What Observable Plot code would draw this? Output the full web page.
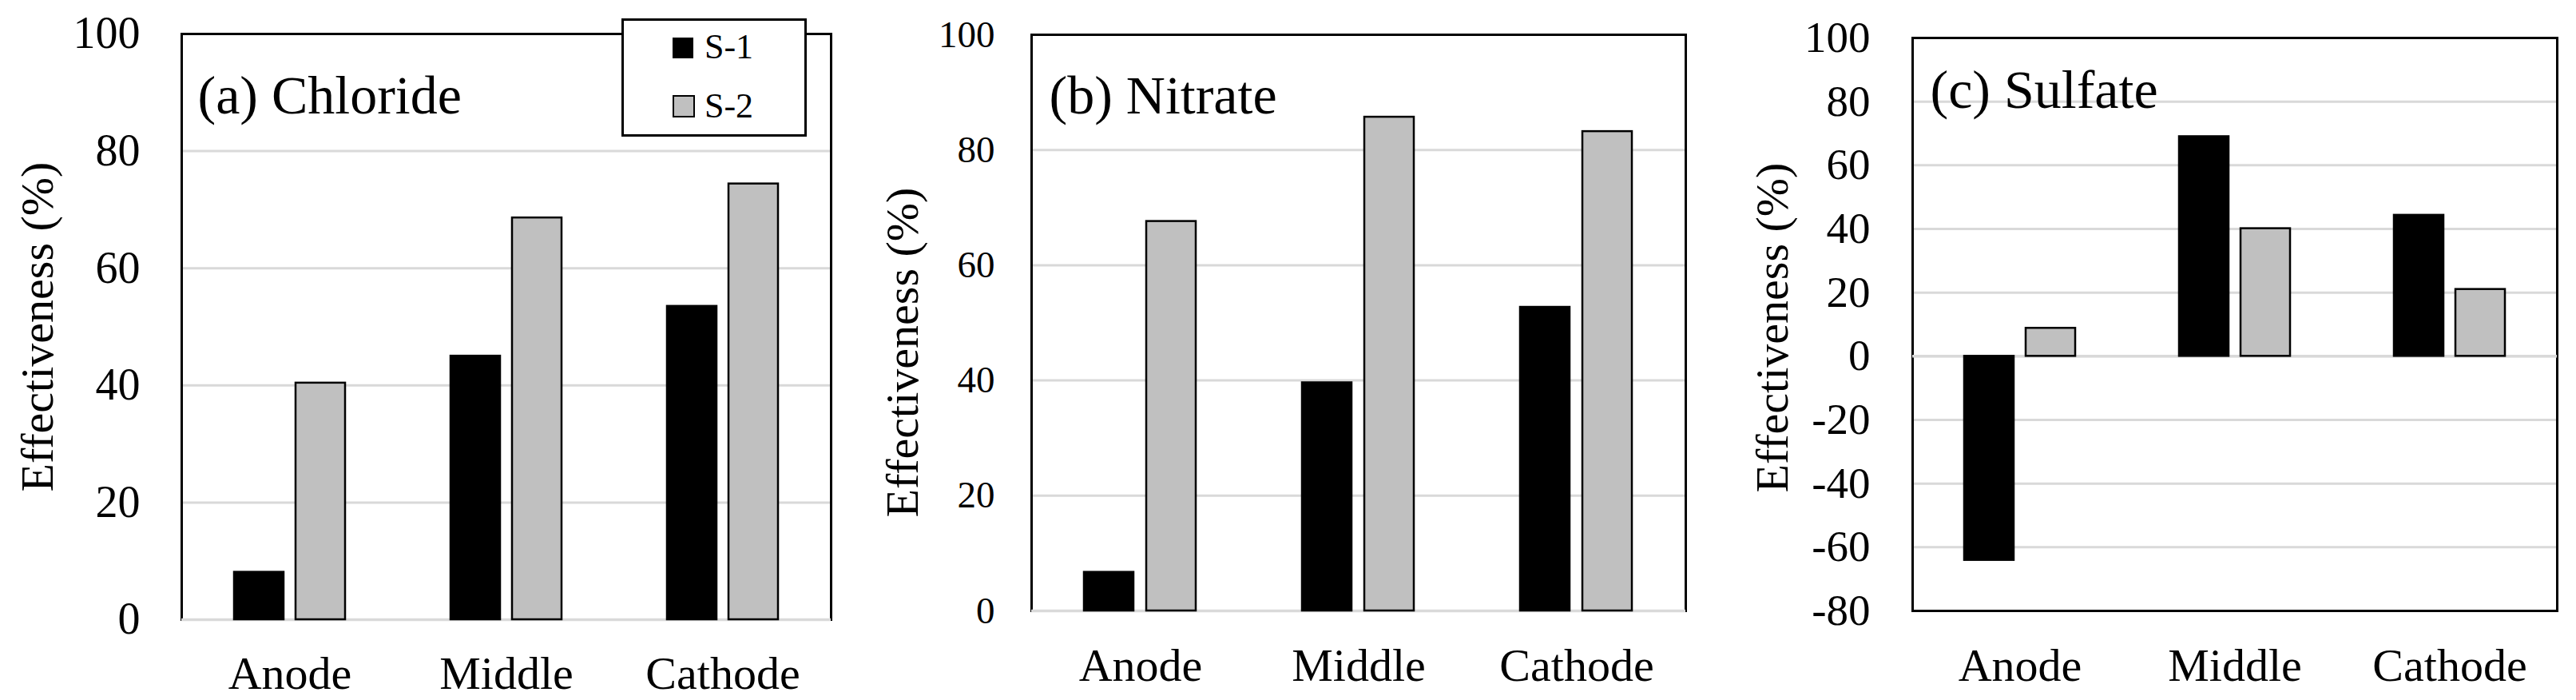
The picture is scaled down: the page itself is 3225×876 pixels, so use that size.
<!DOCTYPE html>
<html>
<head>
<meta charset="utf-8">
<script src="https://cdn.jsdelivr.net/npm/d3@7"></script>
<script src="https://cdn.jsdelivr.net/npm/@observablehq/plot@0.6"></script>
<style>
  html, body { margin: 0; padding: 0; background: #fff; }
  #wrap { position: relative; width: 3225px; height: 876px; overflow: hidden; background: #fff;
          font-family: "Liberation Serif", "Times New Roman", serif; }
  .panel { position: absolute; top: 0; }
  .legend { position: absolute; left: 778px; top: 23px; width: 232px; height: 148px; box-sizing: border-box;
            border: 3px solid #000; background: #fff; }
  .legend .sw { position: absolute; box-sizing: border-box; }
  .legend .lt { position: absolute; font-size: 44px; line-height: 44px; color: #000; white-space: nowrap;
                font-family: "Liberation Serif", "Times New Roman", serif; }
</style>
</head>
<body>
<div id="wrap"></div>
<script>
// ---- data ----
const categories = ["Anode", "Middle", "Cathode"];
const series = ["S-1", "S-2"];
const seriesColors = ["#000000", "#c0c0c0"];

const chlorideS1 = [8.1, 45.0, 53.5];
const chlorideS2 = [40.4, 68.6, 74.4];
const nitrateS1 = [6.7, 39.6, 52.7];
const nitrateS2 = [67.6, 85.7, 83.2];
const sulfateS1 = [-64.1, 69.0, 44.3];
const sulfateS2 = [8.8, 40.1, 21.0];

const panelTitles = ["(a) Chloride", "(b) Nitrate", "(c) Sulfate"];
const yLabel = "Effectiveness (%)";
const yTicksPositive = [0, 20, 40, 60, 80, 100];
const yTicksSulfate = [-80, -60, -40, -20, 0, 20, 40, 60, 80, 100];

// ---- build tables ----
function rows(s1, s2) {
  const out = [];
  categories.forEach((c, i) => {
    out.push({category: c, series: series[0], value: s1[i]});
    out.push({category: c, series: series[1], value: s2[i]});
  });
  return out;
}

const panels = [
  {title: panelTitles[0], data: rows(chlorideS1, chlorideS2), ticks: yTicksPositive,
   left: 0, m: {top: 42, right: 35, bottom: 101, left: 227}, tickFont: 56, tickPad: 52,
   labDx: -180, labDy: 0, titDx: 20, titDy: 51, xPad: 45.5},
  {title: panelTitles[1], data: rows(nitrateS1, nitrateS2), ticks: yTicksPositive,
   left: 1075, m: {top: 43, right: 39, bottom: 112, left: 215}, tickFont: 47, tickPad: 46,
   labDx: -161, labDy: 37, titDx: 22, titDy: 50, xPad: 46},
  {title: panelTitles[2], data: rows(sulfateS1, sulfateS2), ticks: yTicksSulfate,
   left: 2150, m: {top: 47, right: 23, bottom: 112, left: 243}, tickFont: 55, tickPad: 53,
   labDx: -175, labDy: 4, titDx: 22, titDy: 39, xPad: 46}
];

const wrap = document.getElementById("wrap");
const font = "Liberation Serif";

panels.forEach(p => {
  const chart = Plot.plot({
    width: 1075,
    height: 876,
    marginTop: p.m.top,
    marginRight: p.m.right,
    marginBottom: p.m.bottom,
    marginLeft: p.m.left,
    style: {fontFamily: font, background: "#fff", overflow: "visible"},
    fx: {domain: categories, padding: 0},
    x: {domain: series, paddingInner: 0.2, paddingOuter: 0.84, axis: null},
    y: {domain: d3.extent(p.ticks)},
    color: {domain: series, range: seriesColors},
    marks: [
      Plot.ruleY(p.ticks, {stroke: "#d9d9d9", strokeWidth: 3}),
      Plot.frame({stroke: "#000", strokeWidth: 3, facet: "super"}),
      Plot.ruleY([0], {stroke: "#d9d9d9", strokeWidth: 3.5}),
      Plot.barY(p.data, {fx: "category", x: "series", y: "value", fill: "series",
                         stroke: "#000", strokeWidth: 2.5}),
      Plot.axisY(p.ticks, {tickSize: 0, tickPadding: p.tickPad, fontSize: p.tickFont,
                           fontFamily: font, fill: "#000", label: null, tickFormat: d => String(d)}),
      Plot.axisFx({anchor: "bottom", tickSize: 0, tickPadding: p.xPad, fontSize: 58,
                   fontFamily: font, fill: "#000", label: null}),
      Plot.text([p.title], {frameAnchor: "top-left", text: d => d, textAnchor: "start",
                            dx: p.titDx, dy: p.titDy, fontSize: 68, fontFamily: font,
                            fill: "#000", facet: "super"}),
      Plot.text([yLabel], {frameAnchor: "left", text: d => d, rotate: -90, textAnchor: "middle",
                           dx: p.labDx, dy: p.labDy, fontSize: 58, fontFamily: font,
                           fill: "#000", facet: "super"})
    ]
  });
  const holder = document.createElement("div");
  holder.className = "panel";
  holder.style.left = p.left + "px";
  holder.appendChild(chart);
  wrap.appendChild(holder);
});

// ---- legend (overlay on panel a, as in the reference) ----
const legend = document.createElement("div");
legend.className = "legend";
const swTops = [21, 93];
const swSizes = [26, 28];
const txtTops = [11, 85];
series.forEach((s, i) => {
  const sw = document.createElement("div");
  sw.className = "sw";
  sw.style.left = "61px";
  sw.style.top = swTops[i] + "px";
  sw.style.width = swSizes[i] + "px";
  sw.style.height = swSizes[i] + "px";
  sw.style.background = seriesColors[i];
  sw.style.border = "2.5px solid #000";
  legend.appendChild(sw);
  const t = document.createElement("div");
  t.className = "lt";
  t.style.left = "101px";
  t.style.top = txtTops[i] + "px";
  t.textContent = s;
  legend.appendChild(t);
});
wrap.appendChild(legend);
</script>
</body>
</html>
